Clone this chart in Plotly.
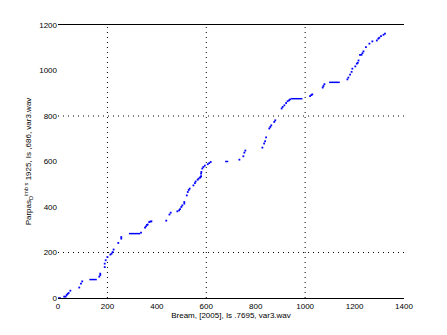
import plotly.graph_objects as go

# Scattered sample points (x, y)
dot_x = [25, 31, 35, 39, 43, 50, 86, 93, 98, 167, 171, 171, 189, 189, 193, 200, 212, 217, 221, 225,
         244, 256, 256, 336, 352, 356, 360, 363, 369, 374, 378, 438, 451, 456, 483, 490, 494, 499, 503,
         511, 511, 521, 525, 529, 533, 548, 554, 557, 565, 569, 575, 577, 579, 579, 580, 584, 588, 594,
         606, 612, 618, 734, 750, 754, 758, 827, 834, 838, 842, 855, 859, 863, 875, 879, 905, 909, 916,
         923, 929, 935, 939, 1020, 1025, 1029, 1071, 1074, 1078, 1171, 1175, 1182, 1188, 1191, 1203,
         1209, 1213, 1216, 1222, 1228, 1232, 1236, 1246, 1260, 1272, 1290, 1296, 1300, 1307, 1317, 1323]
dot_y = [6, 6, 13, 18, 22, 32, 46, 63, 73, 94, 101, 107, 136, 151, 166, 180, 191, 195, 202, 213,
         242, 261, 268, 287, 309, 315, 321, 323, 334, 336, 337, 340, 367, 375, 381, 385, 391, 400, 407,
         415, 422, 451, 466, 475, 481, 495, 505, 512, 520, 525, 529, 532, 536, 547, 554, 569, 576, 582,
         588, 593, 598, 608, 623, 639, 648, 661, 679, 689, 706, 745, 752, 759, 774, 781, 833, 840, 847,
         857, 865, 869, 873, 887, 892, 895, 925, 932, 940, 961, 969, 982, 994, 1008, 1018,
         1030, 1034, 1044, 1069, 1069, 1076, 1084, 1103, 1118, 1128, 1132, 1140, 1144, 1151, 1157, 1162]

# Flat runs (start x, end x, level)
flat_start = [0, 127, 287, 676, 943, 1097]
flat_end = [12, 157, 333, 689, 989, 1140]
flat_level = [0, 81, 283, 600, 876, 948]

x_ticks = [0, 200, 400, 600, 800, 1000, 1200, 1400]
y_ticks = [0, 200, 400, 600, 800, 1000, 1200]
grid_x = [200, 600, 1000]
grid_y = [200, 800]

BLUE = "#0000ff"
FONT = "Liberation Sans, Arial, sans-serif"

flat_x, flat_y = [], []
for s, e, lv in zip(flat_start, flat_end, flat_level):
    flat_x += [s, e, None]
    flat_y += [lv, lv, None]

fig = go.Figure()
fig.add_trace(go.Scatter(x=flat_x, y=flat_y, mode="lines",
                         line=dict(color=BLUE, width=1.5), showlegend=False, hoverinfo="skip"))
fig.add_trace(go.Scatter(x=dot_x, y=dot_y, mode="markers",
                         marker=dict(color=BLUE, size=1.8, symbol="square", line=dict(width=0)),
                         showlegend=False))

shapes = []
for gx in grid_x:
    shapes.append(dict(type="line", xref="x", yref="y", x0=gx, x1=gx, y0=0, y1=1200,
                       line=dict(color="black", width=1, dash="1px,4px"), layer="below"))
for gy in grid_y:
    shapes.append(dict(type="line", xref="x", yref="y", x0=0, x1=1400, y0=gy, y1=gy,
                       line=dict(color="black", width=1, dash="1px,4px"), layer="below"))

fig.update_layout(
    width=447, height=335,
    margin=dict(l=58, r=43, t=25, b=37),
    paper_bgcolor="white", plot_bgcolor="white",
    font=dict(family=FONT, size=8, color="black"),
    shapes=shapes,
    xaxis=dict(range=[0, 1400], tickvals=x_ticks, ticktext=[str(v) for v in x_ticks],
               showgrid=False, zeroline=False, showline=True, mirror=True,
               linecolor="black", linewidth=1, ticks="", ticklen=0,
               title=dict(text="Bream, [2005], Is .7695, var3.wav", standoff=2,
                          font=dict(size=8))),
    yaxis=dict(range=[0, 1200], tickvals=y_ticks, ticktext=[str(v) for v in y_ticks],
               showgrid=False, zeroline=False, showline=False, ticks="",
               title=dict(text="Parpas<sub>D</sub><sup>imb s</sup> 1925, Is ,686, var3.wav",
                          standoff=6, font=dict(size=8))),
)

fig.write_html("out.html")
